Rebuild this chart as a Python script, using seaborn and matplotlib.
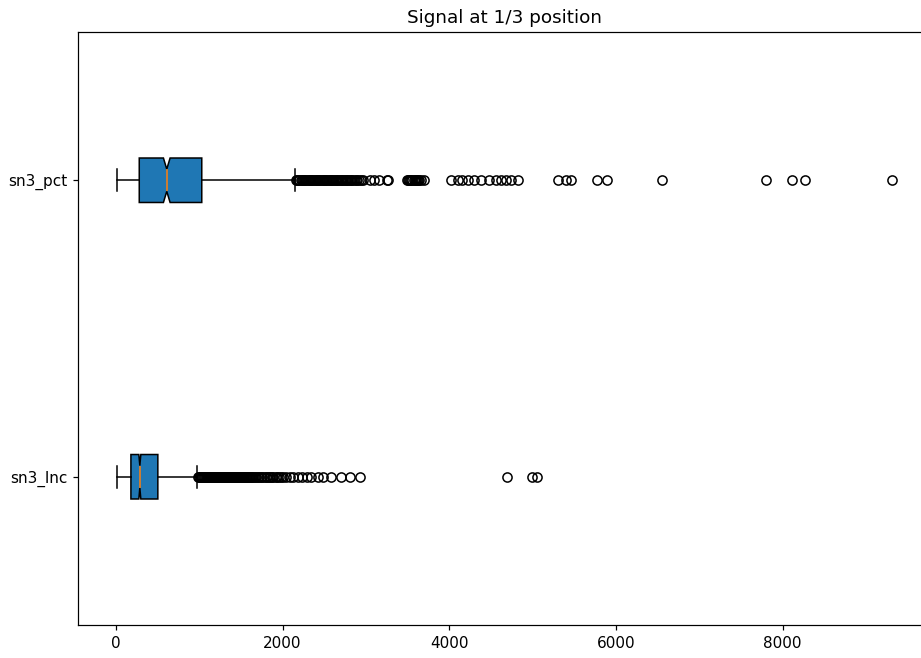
import matplotlib
matplotlib.use("Agg")
import matplotlib.pyplot as plt
import seaborn as sns

# box statistics (lnc at bottom, pct at top)
labels = ["sn3_lnc", "sn3_pct"]
whislo = [15, 10]
q1 = [180, 280]
med = [287, 610]
q3 = [503, 1030]
whishi = [973, 2145]
cilo = [275, 570]
cihi = [299, 650]

lnc_fliers = [990, 1002, 1014, 1026, 1038, 1050, 1062, 1074, 1086, 1098,
              1110, 1122, 1134, 1146, 1158, 1170, 1182, 1194, 1206, 1218,
              1230, 1242, 1254, 1266, 1278, 1290, 1302, 1314, 1326, 1338,
              1350, 1362, 1374, 1386, 1398, 1410, 1422, 1434, 1446, 1458,
              1470, 1482, 1494, 1506, 1518, 1530, 1542, 1554, 1566, 1578,
              1590, 1602, 1614, 1626, 1638, 1650, 1668, 1685, 1704, 1720,
              1741, 1758, 1776, 1795, 1812, 1834, 1850, 1872, 1890, 1915,
              1936, 1958, 1980, 2003, 2040, 2085, 2126, 2180, 2227, 2290,
              2346, 2420, 2485, 2586, 2706, 2805, 2924, 4692, 4991, 5047]

pct_fliers = [2160, 2174, 2188, 2202, 2216, 2230, 2244, 2258, 2272, 2286,
              2300, 2314, 2328, 2342, 2356, 2370, 2384, 2398, 2412, 2426,
              2440, 2454, 2468, 2482, 2496, 2510, 2524, 2538, 2552, 2566,
              2580, 2594, 2609, 2624, 2639, 2654, 2669, 2684, 2699, 2714,
              2729, 2744, 2759, 2774, 2789, 2804, 2820, 2838, 2856, 2876,
              2898, 2920, 2940, 2960, 3044, 3096, 3152, 3255, 3270, 3488,
              3502, 3516, 3530, 3544, 3558, 3572, 3586, 3600, 3614, 3628,
              3642, 3656, 3700, 4022, 4101, 4154, 4221, 4301, 4381, 4480,
              4561, 4620, 4680, 4740, 4820, 5300, 5400, 5460, 5777, 5897,
              6555, 7800, 8111, 8263, 9308]

fliers = [lnc_fliers, pct_fliers]
palette = sns.color_palette("tab10")

stats = []
for i in range(len(labels)):
    stats.append(dict(label=labels[i], whislo=whislo[i], q1=q1[i], med=med[i],
                      q3=q3[i], whishi=whishi[i], cilo=cilo[i], cihi=cihi[i],
                      fliers=fliers[i]))

# reference looks like a 10x7 figure at dpi 110, cropped at the right
fig = plt.figure(figsize=(921 / 110, 658 / 110), dpi=110)
ax = fig.add_axes([78 / 921, 33 / 658, 852.5 / 921, 593 / 658])

ax.bxp(stats, positions=[1, 2], widths=0.15, orientation="horizontal",
       patch_artist=True, shownotches=True,
       boxprops=dict(facecolor=palette[0], edgecolor="black"),
       medianprops=dict(color=palette[1]),
       flierprops=dict(marker="o", markerfacecolor="none",
                       markeredgecolor="black", markersize=6))

ax.set_ylim(0.5, 2.5)
ax.set_title("Signal at 1/3 position")

plt.savefig("out.png", dpi=110)
